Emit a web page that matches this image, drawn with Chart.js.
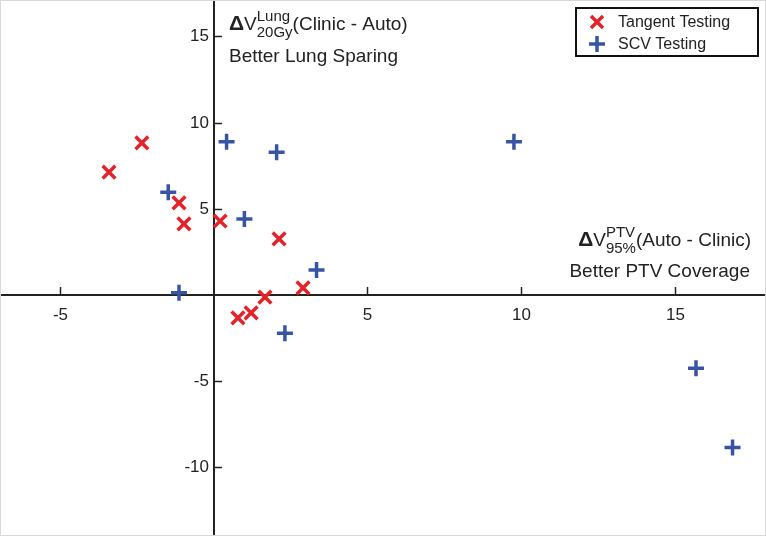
<!DOCTYPE html>
<html>
<head>
<meta charset="utf-8">
<script src="https://cdn.jsdelivr.net/npm/chart.js@4.4.0/dist/chart.umd.min.js"></script>
<style>
  html, body { margin: 0; padding: 0; background: #fff; }
  #wrap { width: 766px; height: 536px; }
</style>
</head>
<body>
<div id="wrap"><canvas id="scatter" width="766" height="536"></canvas></div>
<script>
// ===============================
// DATA
// ===============================
const seriesNames = ["Tangent Testing", "SCV Testing"];

const tangentX = [-3.42, -2.35, -1.14, -0.98, 0.20, 2.12, 2.90, 1.66, 1.21, 0.78];
const tangentY = [7.13, 8.82, 5.34, 4.12, 4.29, 3.25, 0.41, -0.12, -1.04, -1.33];

const scvX = [0.41, 2.04, -1.49, 0.99, 3.34, -1.14, 2.31, 9.77, 15.70, 16.89];
const scvY = [8.89, 8.28, 5.96, 4.41, 1.45, 0.13, -2.22, 8.89, -4.25, -8.84];

const xTicks = [-5, 5, 10, 15];
const yTicks = [15, 10, 5, -5, -10];

const RED = "#e3232a";
const BLUE = "#3a54a4";
const FONT = "'Liberation Sans', Arial, sans-serif";

function toPoints(xs, ys) {
  return xs.map((x, i) => ({ x: x, y: ys[i] }));
}

// ===============================
// AXES THROUGH ORIGIN
// ===============================
const originAxes = {
  id: "originAxes",
  beforeDatasetsDraw(chart) {
    const ctx = chart.ctx;
    const xs = chart.scales.x, ys = chart.scales.y;
    const ox = xs.getPixelForValue(0);
    const oy = ys.getPixelForValue(0);

    ctx.save();
    ctx.strokeStyle = "#222";
    ctx.lineWidth = 2;
    ctx.beginPath();
    ctx.moveTo(0, oy); ctx.lineTo(chart.width, oy);
    ctx.moveTo(ox, 0); ctx.lineTo(ox, chart.height);
    ctx.stroke();

    ctx.lineWidth = 1.5;
    ctx.fillStyle = "#222";
    ctx.font = "17px " + FONT;

    // x ticks point up, labels below
    ctx.textAlign = "center";
    ctx.textBaseline = "middle";
    xTicks.forEach(v => {
      const px = Math.round(xs.getPixelForValue(v)) + 0.5;
      ctx.beginPath(); ctx.moveTo(px, oy); ctx.lineTo(px, oy - 8); ctx.stroke();
      ctx.fillText(String(v), px, oy + 20);
    });

    // y ticks point right, labels left
    ctx.textAlign = "right";
    yTicks.forEach(v => {
      const py = Math.round(ys.getPixelForValue(v)) + 0.5;
      ctx.beginPath(); ctx.moveTo(ox, py); ctx.lineTo(ox + 8, py); ctx.stroke();
      ctx.fillText(String(v), ox - 5, py);
    });
    ctx.restore();
  },

  afterDraw(chart) {
    const ctx = chart.ctx;
    ctx.save();

    // outer frame
    ctx.strokeStyle = "#d8d8d8";
    ctx.lineWidth = 1;
    ctx.strokeRect(0.5, 0.5, chart.width - 1, chart.height - 1);

    // annotations
    ctx.fillStyle = "#222";
    drawDeltaLabel(ctx, 229, 30, "Lung", "20Gy", "(Clinic - Auto)", "left");
    ctx.font = "19px " + FONT;
    ctx.textAlign = "left";
    ctx.textBaseline = "alphabetic";
    ctx.fillText("Better Lung Sparing", 229, 62);

    drawDeltaLabel(ctx, 751, 246, "PTV", "95%", "(Auto - Clinic)", "right");
    ctx.font = "19px " + FONT;
    ctx.textAlign = "right";
    ctx.textBaseline = "alphabetic";
    ctx.fillText("Better PTV Coverage", 750, 277);

    // legend
    ctx.strokeStyle = "#111";
    ctx.lineWidth = 2;
    ctx.strokeRect(576, 8, 182, 48);
    const ds = chart.data.datasets;
    [22, 44].forEach((ly, i) => {
      const d = ds[i];
      ctx.strokeStyle = d.borderColor;
      ctx.lineWidth = d.borderWidth;
      ctx.beginPath();
      if (d.pointStyle === "crossRot") {
        ctx.moveTo(591, ly - 6); ctx.lineTo(603, ly + 6);
        ctx.moveTo(603, ly - 6); ctx.lineTo(591, ly + 6);
      } else {
        ctx.moveTo(589, ly); ctx.lineTo(605, ly);
        ctx.moveTo(597, ly - 8); ctx.lineTo(597, ly + 8);
      }
      ctx.stroke();
      ctx.fillStyle = "#222";
      ctx.font = "16px " + FONT;
      ctx.textAlign = "left";
      ctx.textBaseline = "middle";
      ctx.fillText(d.label, 618, ly + 1);
    });
    ctx.restore();
  }
};

// ΔV with superscript and subscript, then a tail text
function drawDeltaLabel(ctx, x, y, sup, sub, tail, align) {
  const big = "19px " + FONT, bold = "bold 21px " + FONT, small = "15px " + FONT;
  ctx.font = bold; const wD = ctx.measureText("\u0394").width;
  ctx.font = big; const wV = ctx.measureText("V").width;
  ctx.font = small;
  const wS = Math.max(ctx.measureText(sup).width, ctx.measureText(sub).width);
  ctx.font = big; const wT = ctx.measureText(tail).width;
  const total = wD + wV + wS + wT;
  let cx = align === "right" ? x - total : x;

  ctx.textAlign = "left";
  ctx.textBaseline = "alphabetic";
  ctx.font = bold; ctx.fillText("\u0394", cx, y); cx += wD;
  ctx.font = big; ctx.fillText("V", cx, y); cx += wV;
  ctx.font = small;
  ctx.fillText(sup, cx, y - 9);
  ctx.fillText(sub, cx, y + 7);
  cx += wS;
  ctx.font = big; ctx.fillText(tail, cx, y);
}

// ===============================
// CHART
// ===============================
new Chart(document.getElementById("scatter"), {
  type: "scatter",
  data: {
    datasets: [
      {
        label: seriesNames[0],
        data: toPoints(tangentX, tangentY),
        pointStyle: "crossRot",
        pointRadius: 9,
        pointHoverRadius: 9,
        borderColor: RED,
        backgroundColor: RED,
        borderWidth: 3.5
      },
      {
        label: seriesNames[1],
        data: toPoints(scvX, scvY),
        pointStyle: "cross",
        pointRadius: 8,
        pointHoverRadius: 8,
        borderColor: BLUE,
        backgroundColor: BLUE,
        borderWidth: 3.5
      }
    ]
  },
  options: {
    responsive: false,
    animation: false,
    layout: { padding: 0, autoPadding: false },
    plugins: {
      legend: { display: false },
      tooltip: { enabled: false }
    },
    scales: {
      x: { type: "linear", display: false, min: -6.97, max: 17.98 },
      y: { type: "linear", display: false, min: -13.98, max: 17.11 }
    }
  },
  plugins: [originAxes]
});
</script>
</body>
</html>
